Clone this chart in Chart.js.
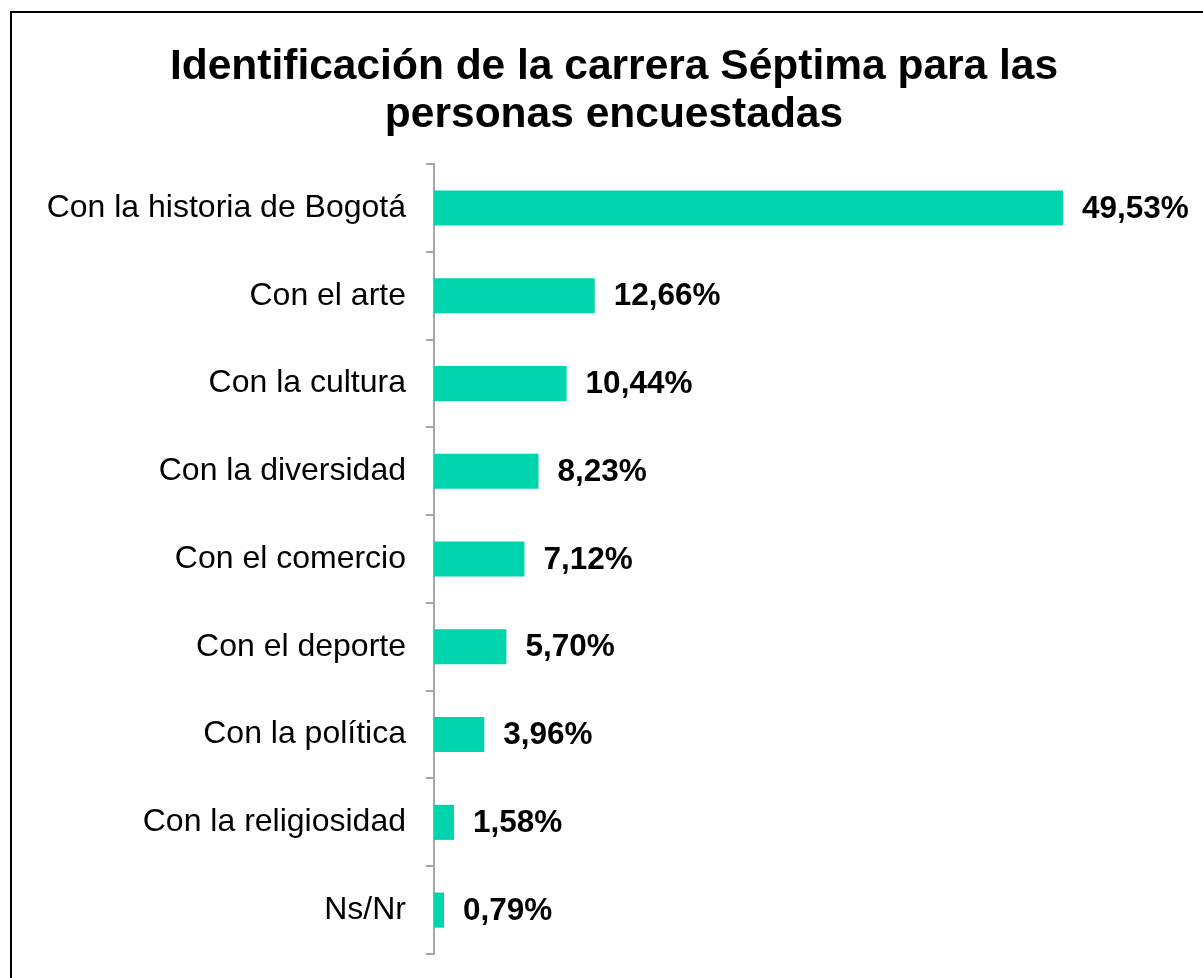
<!DOCTYPE html>
<html>
<head>
<meta charset="utf-8">
<script src="https://cdn.jsdelivr.net/npm/chart.js@4/dist/chart.umd.min.js"></script>
<style>
  html, body { margin: 0; padding: 0; background: #fff; overflow: hidden; }
  #frame {
    position: absolute; left: 10px; top: 11px;
    width: 1300px; height: 1100px;
    border: 2px solid #000; box-sizing: border-box;
  }
  #wrap { position: absolute; left: 0; top: 0; width: 1203px; height: 978px; }
</style>
</head>
<body>
<div id="frame"></div>
<div id="wrap"><canvas id="chart" width="1203" height="978"></canvas></div>
<script>
// categorías y valores (%)
const categories = [
  "Con la historia de Bogotá",
  "Con el arte",
  "Con la cultura",
  "Con la diversidad",
  "Con el comercio",
  "Con el deporte",
  "Con la política",
  "Con la religiosidad",
  "Ns/Nr",
];
const values = [49.53, 12.66, 10.44, 8.23, 7.12, 5.70, 3.96, 1.58, 0.79];
const titleLines = ["Identificación de la carrera Séptima para las", "personas encuestadas"];

const FONT = "Arial, 'Liberation Sans', sans-serif";
const AXIS_GRAY = "#A6A6A6";

// etiquetas de valor al final de cada barra
const valueLabels = {
  id: "valueLabels",
  afterDatasetsDraw(chart) {
    const ctx = chart.ctx;
    const meta = chart.getDatasetMeta(0);
    ctx.save();
    ctx.font = "bold 31.5px " + FONT;
    ctx.fillStyle = "#000";
    ctx.textAlign = "left";
    ctx.textBaseline = "middle";
    meta.data.forEach((bar, i) => {
      const txt = values[i].toFixed(2).replace(".", ",") + "%";
      ctx.fillText(txt, bar.x + 19, bar.y + 1);
    });
    ctx.restore();
  },
};

new Chart(document.getElementById("chart"), {
  type: "bar",
  data: {
    labels: categories,
    datasets: [{
      data: values,
      backgroundColor: "#00D4AD",
      borderWidth: 0,
      barPercentage: 0.4,
      categoryPercentage: 1,
    }],
  },
  options: {
    indexAxis: "y",
    responsive: false,
    animation: false,
    layout: { padding: { left: 32, right: 7, top: 0, bottom: 24 } },
    plugins: {
      legend: { display: false },
      tooltip: { enabled: false },
      title: {
        display: true,
        text: titleLines,
        color: "#000",
        font: { family: FONT, size: 42.5, weight: "bold", lineHeight: 1.13 },
        padding: { top: 43, bottom: 25 },
      },
    },
    scales: {
      x: { display: false, min: 0, max: 60 },
      y: {
        afterFit(scale) {
          scale.width = 402;
          // sin relleno extra por media altura de etiqueta
          scale.paddingTop = 0;
          scale.paddingBottom = 0;
        },
        grid: {
          drawOnChartArea: false,
          color: AXIS_GRAY,
          lineWidth: 2,
          tickLength: 8,
          offset: true,
        },
        border: { display: true, color: AXIS_GRAY, width: 2 },
        ticks: {
          color: "#000",
          padding: 20,
          font: { family: FONT, size: 32 },
        },
      },
    },
  },
  plugins: [valueLabels],
});
</script>
</body>
</html>
